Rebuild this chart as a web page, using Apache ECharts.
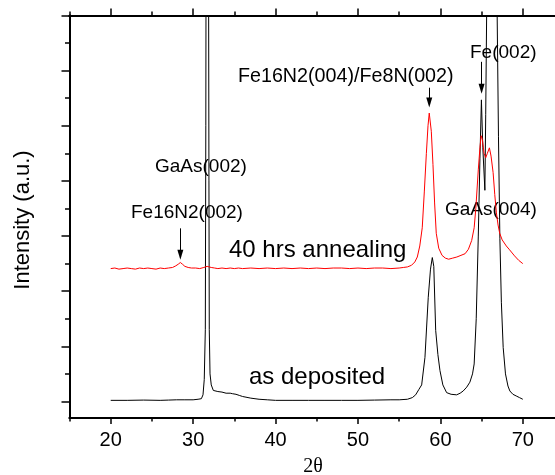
<!DOCTYPE html>
<html>
<head>
<meta charset="utf-8">
<script src="https://cdn.jsdelivr.net/npm/echarts@6/dist/echarts.min.js"></script>
<style>
  html, body { margin: 0; padding: 0; background: #fff; }
  #chart { width: 555px; height: 475px; }
</style>
</head>
<body>
<div id="chart"></div>
<script>
// XRD patterns, 2θ in degrees, intensity in arbitrary units (annealed pattern is offset upward)
const asDepositedTheta = [20, 22, 24, 26, 27, 28, 29, 30, 30.6, 31.0, 31.2, 31.35, 31.48, 31.54, 31.58, 31.72, 31.86, 31.92, 31.96, 32.05, 32.2, 32.45, 33, 33.5, 34, 34.5, 34.8, 35.2, 35.6, 36, 37, 38, 39, 40, 42, 44, 46, 48, 50, 52, 54, 55, 56, 56.6, 57.0, 57.4, 57.73, 58.13, 58.33, 58.53, 58.8, 59.02, 59.2, 59.43, 59.7, 59.95, 60.3, 60.76, 61.3, 61.97, 62.4, 62.77, 63.2, 63.58, 63.9, 64.1, 64.35, 64.6, 64.8, 64.98, 65.15, 65.4, 65.5, 65.62, 65.9, 66.25, 66.6, 66.89, 67.05, 67.22, 67.4, 67.62, 67.9, 68.2, 68.43, 68.8, 69.2, 69.6, 70.0];
const asDepositedInt   = [0.02, 0.02, 0.025, 0.02, 0.025, 0.03, 0.03, 0.03, 0.04, 0.05, 0.12, 0.4, 1.3, 5, 9, 15, 9, 4, 1.3, 0.5, 0.3, 0.2, 0.18, 0.17, 0.15, 0.15, 0.14, 0.13, 0.11, 0.09, 0.06, 0.04, 0.03, 0.02, 0.02, 0.02, 0.02, 0.02, 0.02, 0.025, 0.03, 0.03, 0.04, 0.07, 0.12, 0.22, 0.3, 0.8, 1.35, 1.89, 2.4, 2.61, 2.45, 1.29, 0.85, 0.56, 0.3, 0.16, 0.13, 0.12, 0.15, 0.19, 0.26, 0.35, 0.5, 0.68, 1.5, 3.0, 4.4, 5.47, 4.6, 3.83, 5.2, 7.1, 12, 15, 11, 7.0, 4.8, 2.95, 1.8, 0.98, 0.5, 0.28, 0.19, 0.13, 0.1, 0.07, 0.04];

const annealedTheta = [20, 20.5, 21, 21.5, 22, 22.5, 23, 23.5, 24, 24.5, 25, 25.5, 26, 26.5, 27, 27.5, 27.9, 28.2, 28.45, 28.7, 29.0, 29.4, 29.8, 30.3, 30.8, 31.3, 31.7, 31.9, 32.2, 32.6, 33, 33.5, 34, 34.5, 35, 35.5, 36, 37, 38, 39, 40, 41, 42, 43, 44, 45, 46, 47, 48, 49, 50, 51, 52, 53, 54, 55, 55.5, 56.0, 56.5, 56.9, 57.2, 57.5, 57.8, 58.05, 58.3, 58.5, 58.65, 58.75, 58.9, 59.1, 59.3, 59.5, 59.8, 60.2, 60.6, 61.0, 61.5, 62.0, 62.5, 63.0, 63.4, 63.8, 64.1, 64.3, 64.6, 64.8, 64.95, 65.1, 65.3, 65.5, 65.7, 65.95, 66.15, 66.4, 66.6, 66.8, 67.0, 67.2, 67.5, 68.0, 68.4, 69.0, 69.5, 70.0];
const annealedInt   = [2.41, 2.42, 2.40, 2.41, 2.42, 2.41, 2.40, 2.42, 2.41, 2.42, 2.41, 2.40, 2.42, 2.41, 2.42, 2.43, 2.46, 2.49, 2.52, 2.49, 2.45, 2.43, 2.42, 2.42, 2.41, 2.43, 2.45, 2.46, 2.43, 2.42, 2.41, 2.42, 2.41, 2.42, 2.41, 2.42, 2.41, 2.42, 2.41, 2.42, 2.41, 2.42, 2.41, 2.42, 2.41, 2.42, 2.41, 2.42, 2.42, 2.41, 2.42, 2.41, 2.42, 2.42, 2.41, 2.42, 2.43, 2.44, 2.47, 2.53, 2.62, 2.82, 3.15, 3.8, 4.5, 5.0, 5.23, 5.2, 4.9, 4.3, 3.6, 3.05, 2.78, 2.65, 2.6, 2.58, 2.6, 2.62, 2.65, 2.68, 2.76, 2.92, 3.15, 3.5, 4.2, 4.6, 4.82, 4.75, 4.5, 4.42, 4.5, 4.6, 4.45, 4.15, 3.75, 3.42, 3.2, 3.05, 2.93, 2.82, 2.75, 2.64, 2.56, 2.5];

// Axis ticks
const xTickLabels = [20, 30, 40, 50, 60, 70];
const xMajorTicks = [20, 30, 40, 50, 60, 70];
const xMinorTicks = [15, 25, 35, 45, 55, 65, 75];
const yMajorTicks = [0, 1, 2, 3, 4, 5, 6, 7];
const yMinorTicks = [0.5, 1.5, 2.5, 3.5, 4.5, 5.5, 6.5];

// Peak annotations: arrow at 2θ, from tail intensity to tip intensity
const peakArrows = [
  { theta: 28.45, tail: 3.14, tip: 2.57 },
  { theta: 58.65, tail: 5.69, tip: 5.33 },
  { theta: 65.0, tail: 6.16, tip: 5.58 }
];

const zip = (xs, ys) => xs.map((x, i) => [x, ys[i]]);

const X_MIN = 15, X_MAX = 75, Y_MIN = -0.3, Y_MAX = 7;
const GRID = { left: 69.5, top: 15.5, right: -9, bottom: 57 };
const plotH = 475 - GRID.top - GRID.bottom;
const HEAD_LEN = 10;
const headInUnits = HEAD_LEN / 2 * (Y_MAX - Y_MIN) / plotH;

const FONT = 'Liberation Sans, Arial, sans-serif';
const axisColor = '#000';

function xAxisDef(position, ticks, len, labels) {
  return {
    type: 'value', position, min: X_MIN, max: X_MAX,
    axisLine: { show: true, onZero: false, lineStyle: { color: axisColor, width: 2 } },
    axisTick: { show: true, inside: false, customValues: ticks, length: len, lineStyle: { color: axisColor, width: 1.5 } },
    axisLabel: labels
      ? { show: true, customValues: labels, fontSize: 20, fontFamily: FONT, color: '#000', margin: 12 }
      : { show: false },
    splitLine: { show: false }
  };
}
function yAxisDef(ticks, len) {
  return {
    type: 'value', position: 'left', min: Y_MIN, max: Y_MAX,
    axisLine: { show: true, onZero: false, lineStyle: { color: axisColor, width: 2 } },
    axisTick: { show: true, inside: false, customValues: ticks, length: len, lineStyle: { color: axisColor, width: 1.5 } },
    axisLabel: { show: false },
    splitLine: { show: false }
  };
}

const chart = echarts.init(document.getElementById('chart'), null, { renderer: 'canvas' });

const textItem = (text, x, y, size, extra) => Object.assign({
  type: 'text', x, y, silent: true,
  style: { text, fill: '#000', font: size + 'px ' + FONT, align: 'left', verticalAlign: 'middle' }
}, extra || {});

chart.setOption({
  animation: false,
  backgroundColor: '#fff',
  grid: Object.assign({ containLabel: false, outerBoundsMode: 'none' }, GRID),
  xAxis: [
    xAxisDef('bottom', xMajorTicks, 6, xTickLabels),
    xAxisDef('bottom', xMinorTicks, 3.5, null),
    xAxisDef('top', xMajorTicks, 7, null),
    xAxisDef('top', xMinorTicks, 4, null)
  ],
  yAxis: [
    yAxisDef(yMajorTicks, 8),
    yAxisDef(yMinorTicks, 4.5)
  ],
  series: [
    {
      name: 'as deposited', type: 'line', xAxisIndex: 0, yAxisIndex: 0,
      data: zip(asDepositedTheta, asDepositedInt),
      symbol: 'none', smooth: false, clip: true,
      lineStyle: { color: '#000', width: 1 }
    },
    {
      name: '40 hrs annealing', type: 'line', xAxisIndex: 0, yAxisIndex: 0,
      data: zip(annealedTheta, annealedInt),
      symbol: 'none', smooth: false, clip: true,
      lineStyle: { color: '#ff0000', width: 1 },
      markLine: {
        silent: true, animation: false,
        symbol: ['none', 'triangle'], symbolSize: [6, HEAD_LEN],
        label: { show: false },
        lineStyle: { color: '#000', width: 1, type: 'solid' },
        emphasis: { disabled: true },
        data: peakArrows.map(a => [
          { coord: [a.theta, a.tail] },
          { coord: [a.theta, a.tip + headInUnits] }
        ])
      }
    }
  ],
  graphic: [
    textItem('GaAs(002)', 155, 167, 19),
    textItem('Fe16N2(002)', 131, 213, 19),
    textItem('Fe16N2(004)/Fe8N(002)', 238, 77, 19.7),
    textItem('Fe(002)', 470, 53, 19),
    textItem('GaAs(004)', 445, 210, 19),
    textItem('40 hrs annealing', 229, 250, 24),
    textItem('as deposited', 249, 377, 24),
    {
      type: 'text', x: 23, y: 220, rotation: Math.PI / 2, silent: true,
      style: { text: 'Intensity (a.u.)', fill: '#000', font: '22px ' + FONT, align: 'center', verticalAlign: 'middle' }
    },
    {
      type: 'text', x: 313, y: 467, silent: true,
      style: { text: '2θ', fill: '#000', font: '20px Liberation Serif, Times New Roman, serif', align: 'center', verticalAlign: 'middle' }
    }
  ]
});
</script>
</body>
</html>
